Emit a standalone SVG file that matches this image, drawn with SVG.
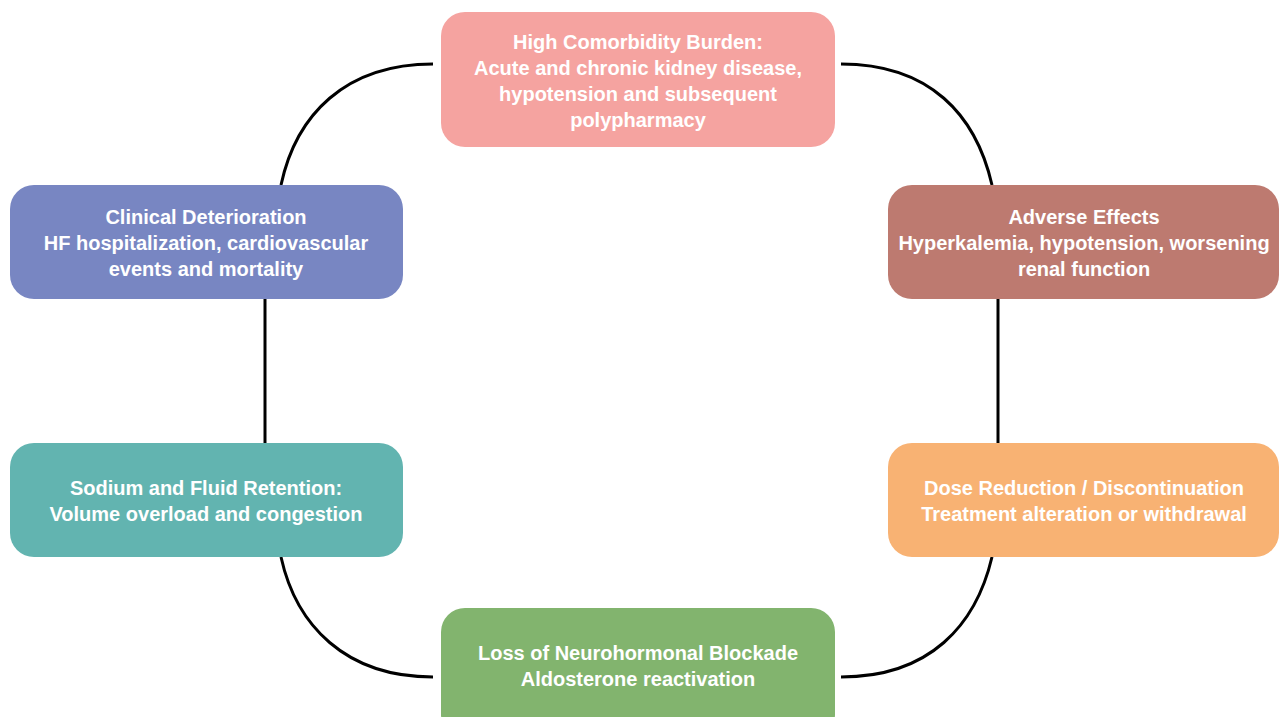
<svg xmlns="http://www.w3.org/2000/svg" width="1279" height="717" viewBox="0 0 1279 717">
<style>
.box{stroke:none}
.t{font-family:"Liberation Sans",Arial,Helvetica,sans-serif;font-weight:bold;font-size:20px;fill:#ffffff;text-anchor:middle}
.c{fill:none;stroke:#000;stroke-width:3;stroke-linecap:butt}
</style>
<rect width="1279" height="717" fill="#ffffff"/>
<g id="connectors">
<path class="c" d="M 433 64 C 345 64, 296 115, 281 185"/>
<path class="c" d="M 841 64 C 930 64, 976 115, 992 185"/>
<path class="c" d="M 265 299 L 265 443"/>
<path class="c" d="M 998 299 L 998 443"/>
<path class="c" d="M 281 557 C 296 625, 345 677, 433 677"/>
<path class="c" d="M 992 557 C 976 625, 930 677, 841 677"/>
</g>
<g id="node-comorbidity">
<rect class="box" x="441" y="12" width="394" height="135" rx="24" fill="#F5A3A0"/>
<text class="t" x="638" y="49">High Comorbidity Burden:</text>
<text class="t" x="638" y="75">Acute and chronic kidney disease,</text>
<text class="t" x="638" y="101">hypotension and subsequent</text>
<text class="t" x="638" y="127">polypharmacy</text>
</g>
<g id="node-adverse">
<rect class="box" x="888" y="185" width="391" height="114" rx="24" fill="#BD7A70"/>
<text class="t" x="1084" y="224">Adverse Effects</text>
<text class="t" x="1084" y="250">Hyperkalemia, hypotension, worsening</text>
<text class="t" x="1084" y="276">renal function</text>
</g>
<g id="node-dose">
<rect class="box" x="888" y="443" width="391" height="114" rx="24" fill="#F8B273"/>
<text class="t" x="1084" y="495">Dose Reduction / Discontinuation</text>
<text class="t" x="1084" y="521">Treatment alteration or withdrawal</text>
</g>
<g id="node-loss">
<rect class="box" x="441" y="608" width="394" height="130" rx="24" fill="#82B46E"/>
<text class="t" x="638" y="660">Loss of Neurohormonal Blockade</text>
<text class="t" x="638" y="686">Aldosterone reactivation</text>
</g>
<g id="node-sodium">
<rect class="box" x="10" y="443" width="393" height="114" rx="24" fill="#62B4B0"/>
<text class="t" x="206" y="495">Sodium and Fluid Retention:</text>
<text class="t" x="206" y="521">Volume overload and congestion</text>
</g>
<g id="node-clinical">
<rect class="box" x="10" y="185" width="393" height="114" rx="24" fill="#7886C2"/>
<text class="t" x="206" y="224">Clinical Deterioration</text>
<text class="t" x="206" y="250">HF hospitalization, cardiovascular</text>
<text class="t" x="206" y="276">events and mortality</text>
</g>
</svg>
